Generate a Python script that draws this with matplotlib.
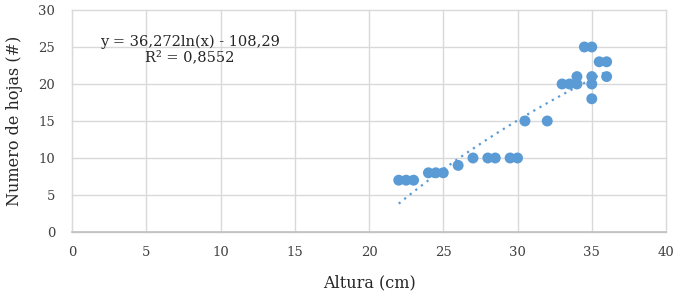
"""Scatter of leaf count vs plant height with a logarithmic trend line."""

import matplotlib
matplotlib.use("Agg")
import matplotlib.pyplot as plt
import numpy as np

# data
altura = [22, 22.5, 23, 24, 24.5, 25, 26, 27, 28, 28.5, 29.5, 30, 30.5, 32,
          33, 33.5, 34, 34, 34.5, 35, 35, 35, 35, 35.5, 36, 36]
hojas = [7, 7, 7, 8, 8, 8, 9, 10, 10, 10, 10, 10, 15, 15,
         20, 20, 20, 21, 25, 25, 21, 20, 18, 23, 23, 21]

# trend line coefficients as shown in the chart
coef_a = 36.272
coef_b = -108.29
r2_text = "R² = 0,8552"
eq_text = "y = 36,272ln(x) - 108,29"

x_ticks = [0, 5, 10, 15, 20, 25, 30, 35, 40]
y_ticks = [0, 5, 10, 15, 20, 25, 30]

plt.rcParams["font.family"] = ["DejaVu Serif"]

fig = plt.figure(figsize=(6.77, 2.99), dpi=100)
ax = fig.add_axes([0.1064, 0.2241, 0.8774, 0.7425])

blue = "#5b9bd5"
grid_c = "#d9d9d9"

xs = np.linspace(min(altura), max(altura), 100)
ax.plot(xs, coef_a * np.log(xs) + coef_b, linestyle=(0, (1, 2.2)),
        color=blue, linewidth=1.6, zorder=2)
ax.scatter(altura, hojas, s=62, color=blue, edgecolors="none", zorder=3)

ax.set_xlim(0, 40)
ax.set_ylim(0, 30)
ax.set_xticks(x_ticks)
ax.set_yticks(y_ticks)
ax.tick_params(length=0, labelsize=9.5, colors="#404040")
ax.tick_params(axis="x", pad=10)
ax.tick_params(axis="y", pad=12)
ax.grid(True, color=grid_c, linewidth=1)
for gl in ax.get_xgridlines() + ax.get_ygridlines():
    gl.set_clip_on(False)
ax.set_axisbelow(True)

for s in ("top", "right"):
    ax.spines[s].set_visible(False)
ax.spines["left"].set_color(grid_c)
ax.spines["bottom"].set_color("#bfbfbf")
ax.spines["bottom"].set_linewidth(1.2)

ax.set_xlabel("Altura (cm)", fontsize=11.5, color="#262626", labelpad=11)
ax.set_ylabel("Numero de hojas (#)", fontsize=11.5, color="#262626", labelpad=11)

ax.text(7.95, 25.7, eq_text, ha="center", va="center", fontsize=10.5, color="#262626")
ax.text(7.95, 23.6, r2_text, ha="center", va="center", fontsize=10.5, color="#262626")

fig.savefig("out.png", dpi=100)
plt.close(fig)
